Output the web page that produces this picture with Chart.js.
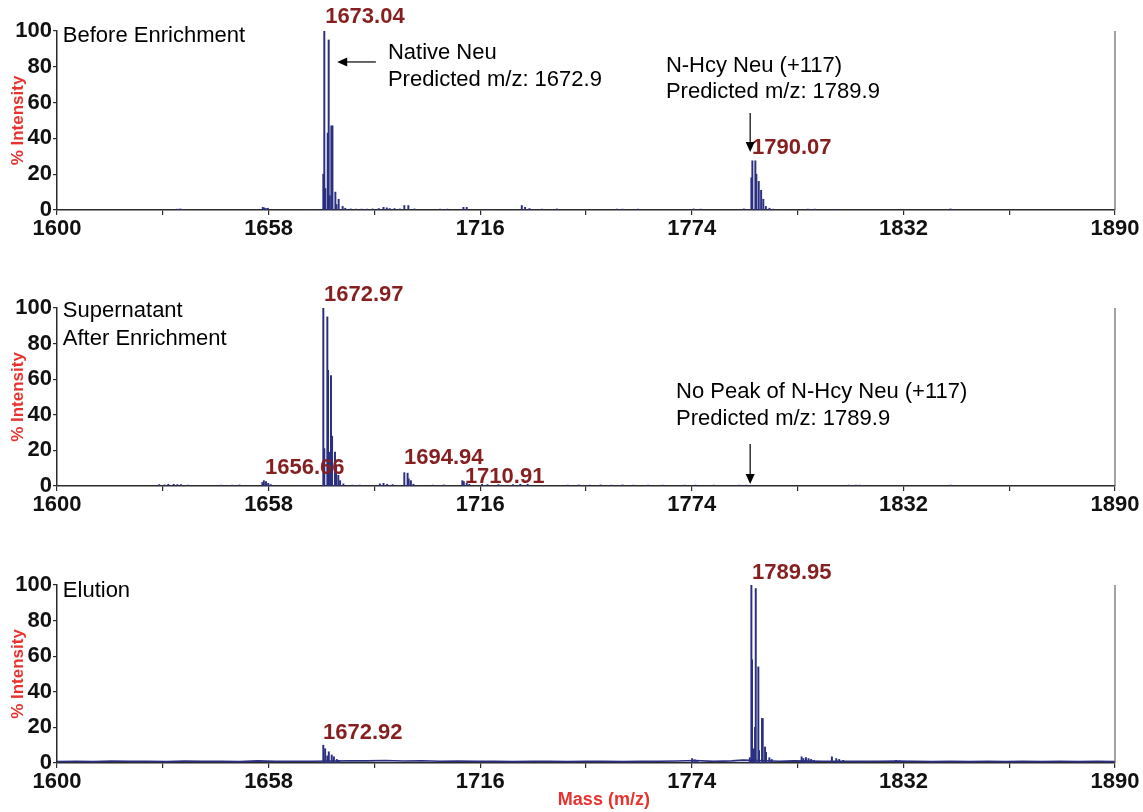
<!DOCTYPE html>
<html lang="en">
<head>
    <meta charset="UTF-8">
    <title>Mass spectra - N-Hcy Neu enrichment</title>
    <script src="https://cdn.jsdelivr.net/npm/chart.js"></script>
    <style>
        body { margin: 0; background: #fff; }
        #page { position: relative; width: 1143px; height: 812px; overflow: hidden; }
        .panel { position: absolute; left: 0; width: 1143px; }
    </style>
</head>
<body>
<div id="page">
    <div class="panel" style="top:0; height:245px;"><canvas id="before"></canvas></div>
    <div class="panel" style="top:276px; height:245px;"><canvas id="supernatant"></canvas></div>
    <div class="panel" style="top:554px; height:258px;"><canvas id="elution"></canvas></div>
</div>

<script>
    // axis ranges / tick labels
    const mzMin = 1600;
    const mzMax = 1890;
    const mzLabelTicks = [1600, 1658, 1716, 1774, 1832, 1890];
    const intensityLabelTicks = [0, 20, 40, 60, 80, 100];

    // Before Enrichment (m/z, % intensity)
    const beforeMz = [1633.0, 1633.8, 1634.3, 1656.4, 1656.8, 1657.3, 1657.8, 1670.0,
        1673.0, 1673.27, 1673.55, 1674.2, 1674.47, 1674.75, 1675.2, 1675.5, 1676.3, 1676.6,
        1677.2, 1678.3, 1679.0, 1680.5, 1682.0, 1683.5, 1685.0, 1686.5, 1688.2, 1689.5, 1690.4,
        1691.2, 1692.5, 1694.0, 1695.2, 1696.3, 1698.0, 1705.0, 1707.0, 1711.4, 1712.3, 1718.0,
        1727.4, 1728.3, 1729.5, 1733.0, 1737.0, 1753.5, 1755.0, 1759.3, 1774.5, 1776.4, 1788.3,
        1790.33, 1790.6, 1791.42, 1791.7, 1792.35, 1793.0, 1793.6, 1794.3, 1795.3, 1796.3,
        1805.8, 1807.7, 1813.4, 1844.9];
    const beforeIntensity = [0.5, 0.6, 0.4, 1.5, 1.2, 0.8, 1.0, 0.4,
        20, 100, 12, 43, 95, 8, 47, 47, 10, 3,
        6, 2, 1, 0.6, 0.5, 0.5, 0.5, 0.6, 0.8, 1.5, 1.2,
        0.8, 0.8, 0.6, 2.5, 2.5, 0.6, 0.5, 0.5, 1.5, 1.5, 0.4,
        2.5, 1.5, 0.8, 0.5, 0.6, 0.5, 0.5, 0.5, 0.6, 0.5, 0.6,
        18, 27.5, 27.5, 20, 16, 11, 6, 2, 1, 0.5,
        0.5, 0.5, 0.4, 0.6];

    // Supernatant After Enrichment
    const supernatantMz = [1628.0, 1629.5, 1630.5, 1632.0, 1633.0, 1634.0, 1636.0, 1645.0, 1648.0, 1650.0,
        1656.3, 1656.7, 1657.3, 1657.9, 1658.6, 1667.0,
        1673.0, 1673.27, 1674.1, 1674.3, 1674.57, 1675.1, 1675.4, 1676.2, 1676.5, 1677.1, 1677.6, 1678.5,
        1681.0, 1683.0, 1688.5, 1689.5, 1690.5, 1692.0,
        1695.2, 1696.1, 1696.4, 1697.0, 1697.7, 1703.0, 1706.0,
        1711.1, 1711.5, 1712.3, 1713.0, 1716.5, 1718.0, 1721.0, 1725.0, 1727.0, 1729.0,
        1740.0, 1743.0, 1746.0, 1749.0, 1752.0, 1755.0, 1758.0, 1762.0, 1766.0, 1772.0, 1775.0,
        1780.0, 1787.0, 1789.0, 1817.0, 1819.0, 1820.0, 1845.0];
    const supernatantIntensity = [0.8, 0.6, 1, 1, 0.8, 0.8, 0.5, 0.5, 0.5, 0.6,
        2, 3, 2.5, 1.5, 0.8, 0.4,
        100, 21, 95, 65, 19, 62, 28, 19, 12, 6, 3, 1.2,
        0.5, 0.5, 1.2, 1.5, 1, 0.8,
        7.5, 7.2, 4, 3, 1, 0.5, 0.6,
        3, 2.5, 1.5, 1, 1, 0.8, 0.8, 0.8, 1, 1,
        0.5, 0.6, 0.5, 0.6, 0.5, 0.6, 0.5, 0.5, 0.5, 0.5, 0.5,
        0.5, 0.5, 0.5, 0.5, 0.5, 0.5, 0.5];

    // Elution
    const elutionMz = [1673.0, 1673.5, 1674.1, 1674.5, 1675.3, 1675.9, 1676.7, 1677.3,
        1774.1, 1774.8, 1775.5,
        1789.9, 1790.33, 1790.5, 1791.0, 1791.34, 1791.53, 1792.24, 1792.43, 1793.25, 1793.44,
        1794.08, 1794.35, 1795.26, 1795.9,
        1804.1, 1804.6, 1805.3, 1806.0, 1806.7, 1807.4,
        1812.4, 1813.6, 1814.4, 1815.5, 1830.0, 1831.0];
    const elutionIntensity = [10, 8, 4, 6.3, 4.5, 3.5, 2, 1.5,
        2.5, 1.8, 1.2,
        3, 100, 58, 8, 20, 98, 54, 7, 25, 25,
        9, 6, 3, 2,
        3.5, 2.5, 3, 2.5, 2, 1.5,
        3.5, 2.5, 2, 1.5, 1.5, 1.2];
    // Elution noisy baseline
    const elutionBaseMz = [1600, 1605, 1610, 1615, 1620, 1625, 1630, 1635, 1640, 1645, 1650, 1655,
        1660, 1665, 1670, 1680, 1685, 1690, 1695, 1700, 1705, 1710, 1715, 1720, 1725, 1730, 1735,
        1740, 1745, 1750, 1755, 1760, 1765, 1770, 1775, 1780, 1785, 1788, 1798, 1802, 1810, 1816,
        1820, 1825, 1830, 1835, 1840, 1845, 1850, 1855, 1860, 1865, 1870, 1875, 1880, 1885, 1890];
    const elutionBaseIntensity = [0.8, 1.0, 0.8, 1.1, 0.9, 1.0, 0.8, 1.1, 0.9, 1.0, 0.8, 1.2,
        0.9, 1.0, 1.0, 1.3, 1.2, 1.4, 1.1, 1.3, 1.0, 1.1, 0.9, 1.0, 0.8, 0.9, 1.0,
        0.8, 0.9, 1.0, 0.8, 0.9, 1.0, 1.1, 1.4, 0.9, 1.2, 1.6, 1.0, 1.2, 1.0, 1.0,
        0.9, 1.0, 1.1, 0.9, 0.8, 0.9, 0.8, 0.9, 0.8, 0.9, 0.8, 0.9, 0.8, 0.9, 0.8];

    const FONT = '"Liberation Sans", Arial, sans-serif';
    const SPEC = '#2a2f80';
    const PEAK = '#861f1f';
    const RED = '#e8322e';
    const AXIS = '#2b2b2b';

    function toPoints(xs, ys) {
        return xs.map((m, i) => ({x: m, y: ys[i]}));
    }

    // texts and arrows drawn on top of each panel, anchored in data units
    function overlay(texts, arrows) {
        return {
            id: 'overlay',
            afterDatasetsDraw(chart) {
                const ctx = chart.ctx;
                const area = chart.chartArea;
                const xs = chart.scales.x, ys = chart.scales.y;
                ctx.save();
                // right frame line
                ctx.strokeStyle = '#666';
                ctx.lineWidth = 1.2;
                ctx.beginPath();
                ctx.moveTo(area.right, area.top);
                ctx.lineTo(area.right, area.bottom);
                ctx.stroke();

                texts.forEach(t => {
                    ctx.font = t.font;
                    ctx.fillStyle = t.color;
                    ctx.textAlign = t.align || 'left';
                    ctx.textBaseline = 'middle';
                    ctx.fillText(t.text, xs.getPixelForValue(t.x), ys.getPixelForValue(t.y));
                });

                arrows.forEach(a => {
                    const x1 = xs.getPixelForValue(a.from[0]), y1 = ys.getPixelForValue(a.from[1]);
                    const x2 = xs.getPixelForValue(a.to[0]), y2 = ys.getPixelForValue(a.to[1]);
                    const ang = Math.atan2(y2 - y1, x2 - x1);
                    ctx.strokeStyle = '#000';
                    ctx.fillStyle = '#000';
                    ctx.lineWidth = 1.2;
                    ctx.beginPath();
                    ctx.moveTo(x1, y1);
                    ctx.lineTo(x2 - 7 * Math.cos(ang), y2 - 7 * Math.sin(ang));
                    ctx.stroke();
                    ctx.beginPath();
                    ctx.moveTo(x2, y2);
                    ctx.lineTo(x2 - 10 * Math.cos(ang) + 4.5 * Math.sin(ang), y2 - 10 * Math.sin(ang) - 4.5 * Math.cos(ang));
                    ctx.lineTo(x2 - 10 * Math.cos(ang) - 4.5 * Math.sin(ang), y2 - 10 * Math.sin(ang) + 4.5 * Math.cos(ang));
                    ctx.closePath();
                    ctx.fill();
                });
                ctx.restore();
            }
        };
    }

    function makeSpectrum(canvasId, sticks, baseline, padTop, xAxisHeight, texts, arrows) {
        const datasets = [{
            type: 'bar',
            data: sticks,
            backgroundColor: SPEC,
            borderWidth: 0,
            barThickness: 1.3,
            order: 1
        }];
        if (baseline) {
            datasets.push({
                type: 'line',
                data: baseline,
                borderColor: SPEC,
                borderWidth: 1.6,
                pointRadius: 0,
                tension: 0,
                order: 2
            });
        }
        return new Chart(document.getElementById(canvasId), {
            type: 'bar',
            data: {datasets: datasets},
            options: {
                responsive: true,
                maintainAspectRatio: false,
                animation: false,
                layout: {padding: {top: padTop, right: 28, left: 0, bottom: 0}},
                plugins: {legend: {display: false}, tooltip: {enabled: false}},
                scales: {
                    x: {
                        type: 'linear',
                        min: mzMin,
                        max: mzMax,
                        offset: false,
                        grid: {drawOnChartArea: false, offset: false, color: AXIS, tickLength: 5, lineWidth: 1.2},
                        border: {color: AXIS, width: 1.5},
                        ticks: {
                            stepSize: 29,
                            autoSkip: false,
                            maxRotation: 0,
                            padding: 1,
                            color: '#111',
                            font: {family: FONT, size: 22, weight: 'bold'},
                            callback: v => mzLabelTicks.includes(v) ? String(v) : ''
                        },
                        afterFit: s => { s.height = xAxisHeight; s.paddingLeft = 0; s.paddingRight = 0; }
                    },
                    y: {
                        min: 0,
                        max: 100,
                        grid: {drawOnChartArea: false, color: AXIS, tickLength: 4, lineWidth: 1.2},
                        border: {color: AXIS, width: 1.5},
                        ticks: {
                            stepSize: 10,
                            padding: 1,
                            color: '#111',
                            font: {family: FONT, size: 22, weight: 'bold'},
                            callback: v => intensityLabelTicks.includes(v) ? String(v) : ''
                        },
                        title: {
                            display: true,
                            text: '% Intensity',
                            color: RED,
                            font: {family: FONT, size: 17, weight: 'bold'},
                            padding: {top: 8, bottom: 0}
                        },
                        afterFit: s => { s.width = 57; s.paddingTop = 0; s.paddingBottom = 0; }
                    }
                }
            },
            plugins: [overlay(texts, arrows)]
        });
    }

    const labelFont = '22px ' + FONT;
    const noteFont = '22px ' + FONT;
    const peakFont = 'bold 22px ' + FONT;

    makeSpectrum('before', toPoints(beforeMz, beforeIntensity), null, 31, 35, [
        {text: 'Before Enrichment', x: 1601.6, y: 97.2, font: labelFont, color: '#000'},
        {text: '1673.04', x: 1673.5, y: 107.8, font: peakFont, color: PEAK},
        {text: 'Native Neu', x: 1690.7, y: 87.7, font: noteFont, color: '#000'},
        {text: 'Predicted m/z: 1672.9', x: 1690.7, y: 72.6, font: noteFont, color: '#000'},
        {text: 'N-Hcy Neu (+117)', x: 1766.9, y: 80.4, font: noteFont, color: '#000'},
        {text: 'Predicted m/z: 1789.9', x: 1766.9, y: 65.9, font: noteFont, color: '#000'},
        {text: '1790.07', x: 1790.5, y: 34.6, font: peakFont, color: PEAK}
    ], [
        {from: [1687.4, 82.7], to: [1676.8, 82.7]},
        {from: [1790.0, 54.2], to: [1790.0, 32.4]}
    ]);

    makeSpectrum('supernatant', toPoints(supernatantMz, supernatantIntensity), null, 32, 35, [
        {text: 'Supernatant', x: 1601.6, y: 98.3, font: labelFont, color: '#000'},
        {text: 'After Enrichment', x: 1601.6, y: 82.6, font: labelFont, color: '#000'},
        {text: '1672.97', x: 1673.2, y: 107.3, font: peakFont, color: PEAK},
        {text: '1656.66', x: 1657.0, y: 10.1, font: peakFont, color: PEAK},
        {text: '1694.94', x: 1695.1, y: 15.7, font: peakFont, color: PEAK},
        {text: '1710.91', x: 1711.8, y: 5.1, font: peakFont, color: PEAK},
        {text: 'No Peak of N-Hcy Neu (+117)', x: 1769.7, y: 52.8, font: noteFont, color: '#000'},
        {text: 'Predicted m/z: 1789.9', x: 1769.7, y: 37.6, font: noteFont, color: '#000'}
    ], [
        {from: [1790.0, 23.6], to: [1790.0, 1.1]}
    ]);

    makeSpectrum('elution', toPoints(elutionMz, elutionIntensity), toPoints(elutionBaseMz, elutionBaseIntensity), 31, 49, [
        {text: 'Elution', x: 1601.6, y: 96.6, font: labelFont, color: '#000'},
        {text: '1789.95', x: 1790.5, y: 106.7, font: peakFont, color: PEAK},
        {text: '1672.92', x: 1672.9, y: 16.9, font: peakFont, color: PEAK},
        {text: 'Mass (m/z)', x: 1749.9, y: -20.8, font: 'bold 18px ' + FONT, color: RED, align: 'center'}
    ], []);
</script>
</body>
</html>
